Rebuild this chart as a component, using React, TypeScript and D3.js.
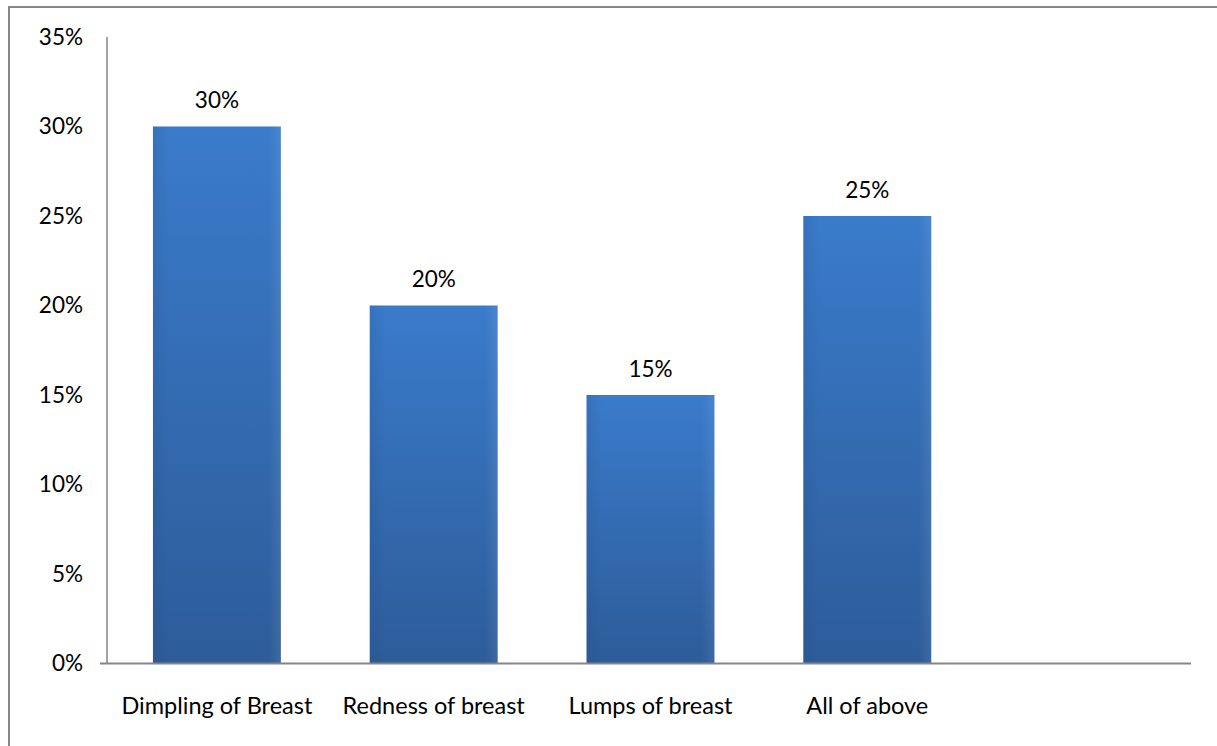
import React from "react";
import * as d3 from "d3";

const categories = ["Dimpling of Breast", "Redness of breast", "Lumps of breast", "All of above", ""];
const values = [0.30, 0.20, 0.15, 0.25, null];
const yTicks = [0, 0.05, 0.1, 0.15, 0.2, 0.25, 0.3, 0.35];

const W = 1217;
const H = 746;
const FONT = "Lato, 'Open Sans', sans-serif";

export default function App() {
  const keys = categories.map((c, i) => c + "#" + i);
  const x = d3.scaleBand<string>().domain(keys).range([108.5, 1192.5]).paddingInner(0.41).paddingOuter(0.205);
  const y = d3.scaleLinear().domain([0, 0.35]).range([663.5, 37]);
  const fmt = d3.format(".0%");

  return (
    <svg width={W} height={H} style={{ position: "absolute", left: 0, top: 0 }}>
      <defs>
        <linearGradient id="barV" x1="0" y1="0" x2="0" y2="1">
          <stop offset="0" stopColor="#3a7bcb" />
          <stop offset="1" stopColor="#2d5c99" />
        </linearGradient>
        <linearGradient id="barH" x1="0" y1="0" x2="1" y2="0">
          <stop offset="0" stopColor="#1f4a80" stopOpacity="0.18" />
          <stop offset="0.12" stopColor="#1f4a80" stopOpacity="0" />
          <stop offset="0.9" stopColor="#ffffff" stopOpacity="0" />
          <stop offset="1" stopColor="#ffffff" stopOpacity="0.08" />
        </linearGradient>
      </defs>
      <rect x={0} y={0} width={W} height={H} fill="#fff" />
      {/* outer chart border */}
      <path d={`M9,${H} V7 H${W}`} fill="none" stroke="#878787" strokeWidth={2} />

      {/* y axis */}
      <line x1={107} x2={107} y1={y(0.35)} y2={y(0)} stroke="#868686" strokeWidth={1.5} />
      {yTicks.map((t) => (
        <text key={t} x={83} y={y(t)} dy="0.35em" textAnchor="end" fontFamily={FONT} fontSize={22.5} fill="#000">
          {fmt(t)}
        </text>
      ))}

      {/* bars */}
      {values.map((v, i) =>
        v == null ? null : (
          <g key={i}>
            <rect x={x(keys[i])!} y={y(v)} width={x.bandwidth()} height={y(0) - y(v)} fill="url(#barV)" />
            <rect x={x(keys[i])!} y={y(v)} width={x.bandwidth()} height={y(0) - y(v)} fill="url(#barH)" />
            <text x={x(keys[i])! + x.bandwidth() / 2} y={y(v) - 26} dy="0.35em" textAnchor="middle" fontFamily={FONT} fontSize={22.5} fill="#000">
              {fmt(v)}
            </text>
          </g>
        )
      )}

      {/* x axis */}
      <line x1={100} x2={1191} y1={y(0)} y2={y(0)} stroke="#868686" strokeWidth={2} />
      {categories.map((c, i) => (
        <text key={i} x={x(keys[i])! + x.bandwidth() / 2} y={706} dy="0.35em" textAnchor="middle" fontFamily={FONT} fontSize={23.5} fill="#000">
          {c}
        </text>
      ))}
    </svg>
  );
}
